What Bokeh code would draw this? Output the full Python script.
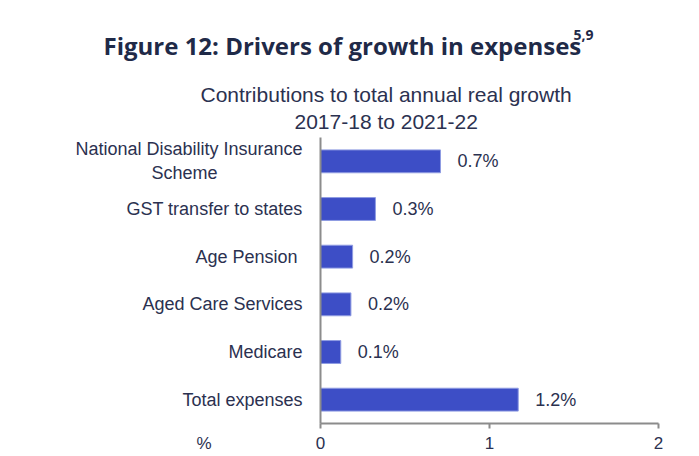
from bokeh.plotting import figure
from bokeh.models import FactorRange, Range1d, FixedTicker, Title, ColumnDataSource
from bokeh.embed import file_html
from bokeh.resources import INLINE
from bokeh.core.properties import value

NB = "\u00a0"
categories = ["National Disability Insurance\nScheme" + NB * 17, "GST transfer to states", "Age Pension ",
              "Aged Care Services", "Medicare", "Total expenses"]
values = [0.71, 0.325, 0.19, 0.18, 0.12, 1.17]
value_labels = ["0.7%", "0.3%", "0.2%", "0.2%", "0.1%", "1.2%"]
x_ticks = [0, 1, 2]

TXT = "#2b3150"
TITLE = "#1f2a48"
BAR = "#3d4ec6"
AX = "#8c8c8c"
FONT = "Liberation Sans"

W, H = 690, 456
FL, FR, FT, FB = 320, 658, 137, 423

p = figure(width=W, height=H, output_backend="svg", toolbar_location=None,
           y_range=FactorRange(factors=list(reversed(categories)), range_padding=0),
           x_range=Range1d(0, 2),
           min_border_left=FL, min_border_right=W - FR, min_border_top=FT, min_border_bottom=H - FB)
p.outline_line_color = None
p.grid.grid_line_color = None
p.background_fill_color = "white"
p.border_fill_color = "white"

src = ColumnDataSource(dict(cat=categories, val=values, lab=value_labels))
p.hbar(y="cat", right="val", left=0, height=0.48, source=src,
       fill_color=BAR, line_color="#8f9ce2", line_width=1)
p.text(x="val", y="cat", text="lab", source=src, x_offset=17,
       text_font=value(FONT), text_font_size="18px", text_color=TXT,
       text_baseline="middle", text_align="left")

xa = p.xaxis[0]
xa.ticker = FixedTicker(ticks=x_ticks)
xa.axis_line_color = AX
xa.axis_line_width = 2
xa.major_tick_line_color = AX
xa.major_tick_line_width = 2
xa.major_tick_in = 0
xa.major_tick_out = 5
xa.minor_tick_line_color = None
xa.major_label_standoff = 8
xa.major_label_text_font = FONT
xa.major_label_text_font_size = "17px"
xa.major_label_text_color = TXT

ya = p.yaxis[0]
ya.axis_line_color = AX
ya.axis_line_width = 2
ya.major_tick_line_color = None
ya.minor_tick_line_color = None
ya.major_tick_in = 0
ya.major_tick_out = 0
ya.major_label_standoff = 18
ya.major_label_text_font = FONT
ya.major_label_text_font_size = "18px"
ya.major_label_text_color = TXT

# titles stacked above the frame (first added = nearest the frame)
p.add_layout(Title(text="2017-18 to 2021-22", align="left", offset=294 - FL,
                   standoff=9, text_font=FONT, text_font_size="21px",
                   text_font_style="normal", text_color=TXT), "above")
p.add_layout(Title(text="Contributions to total annual real growth", align="left", offset=200 - FL,
                   standoff=-4, text_font=FONT, text_font_size="21px",
                   text_font_style="normal", text_color=TXT), "above")
p.add_layout(Title(text="Figure 12: Drivers of growth in expenses", align="left",
                   offset=103 - FL, standoff=37, vertical_align="top",
                   text_font="Open Sans", text_font_size="24px",
                   text_font_style="bold", text_color=TITLE), "above")
p.add_layout(Title(text="5,9", align="left", offset=573 - FL, standoff=-59,
                   text_font="Open Sans", text_font_size="14px",
                   text_font_style="bold", text_color=TITLE), "above")

p.add_layout(Title(text="%", align="left", offset=196 - FL, vertical_align="top",
                   standoff=-36, text_font=FONT, text_font_size="17px",
                   text_font_style="normal", text_color=TXT), "below")

open("out.html", "w").write(file_html(p, INLINE))
